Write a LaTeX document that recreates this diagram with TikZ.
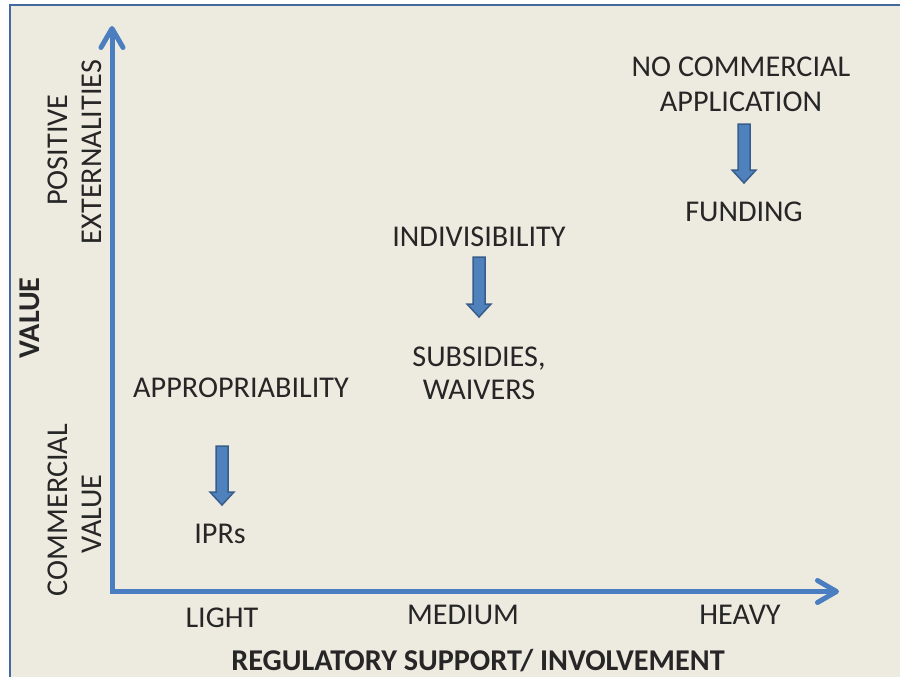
\documentclass[tikz,border=0pt]{standalone}
\usepackage{fontspec}
\setmainfont{Carlito}
\usetikzlibrary{arrows.meta}
\definecolor{pagebg}{HTML}{EDEAE0}
\definecolor{framecol}{HTML}{4468A0}
\definecolor{axiscol}{HTML}{4A7EC0}
\definecolor{blockfill}{HTML}{4F81BD}
\definecolor{blockline}{HTML}{385D8A}
\definecolor{ink}{HTML}{262626}
\tikzset{
  lbl/.style={text=ink, inner sep=0pt, font=\fontsize{30.2}{36}\selectfont},
  boldlbl/.style={text=ink, inner sep=0pt, font=\fontsize{30.2}{36}\selectfont\bfseries},
  axisline/.style={draw=axiscol, line width=5pt,
    -{Straight Barb[length=19pt,width=22pt,round]}},
  blockarrow/.style={fill=blockfill, draw=blockline, line width=1.5pt, line join=miter}
}
% down-pointing block arrow: #1 = centre x, #2 = top y, #3 = tip y
\newcommand{\downblock}[3]{%
  \filldraw[blockarrow] (#1-6,#2) -- (#1+6,#2) -- (#1+6,#3-13) -- (#1+12,#3-13)
    -- (#1,#3) -- (#1-12,#3-13) -- (#1-6,#3-13) -- cycle;}
\begin{document}
\begin{tikzpicture}[x=1pt,y=-1pt]
\useasboundingbox (0,0) rectangle (900,677);
\fill[white] (0,0) rectangle (900,677);
\fill[pagebg] (10,5) rectangle (900,677);
\draw[framecol, line width=1.5pt] (10,677) -- (10,5) -- (900,5);

% axes
\coordinate (origin) at (112,591.5);
\coordinate (ytip) at (112,26);
\coordinate (xtip) at (839,591.5);
\draw[axisline] (origin) -- (ytip);
\draw[axisline] (origin) -- (xtip);
\fill[axiscol] (109.5,589) rectangle (114.5,594);

% vertical axis labels
\node[lbl, rotate=90] (pos) at (58,150) {POSITIVE};
\node[lbl, rotate=90] (ext) at (92,152) {EXTERNALITIES};
\node[boldlbl, rotate=90] (val) at (30,318) {VALUE};
\node[lbl, rotate=90] (com) at (58,510) {COMMERCIAL};
\node[lbl, rotate=90] (cval) at (92,514) {VALUE};

% horizontal axis labels
\node[lbl, anchor=base] (light) at (222,627) {LIGHT};
\node[lbl, anchor=base] (medium) at (463,624) {MEDIUM};
\node[lbl, anchor=base] (heavy) at (740,624) {HEAVY};
\node[boldlbl, anchor=base] (reg) at (478,670) {REGULATORY SUPPORT/ INVOLVEMENT};

% light involvement
\node[lbl, anchor=base] (appr) at (241,397) {APPROPRIABILITY};
\downblock{222}{446}{505}
\node[lbl, anchor=base] (ipr) at (220,543) {IPRs};

% medium involvement
\node[lbl, anchor=base] (indiv) at (479,246) {INDIVISIBILITY};
\downblock{479}{257}{317}
\node[lbl, anchor=base] (subs) at (479,366) {SUBSIDIES,};
\node[lbl, anchor=base] (waiv) at (479,399) {WAIVERS};

% heavy involvement
\node[lbl, anchor=base] (nocom) at (741,77) {NO COMMERCIAL};
\node[lbl, anchor=base] (appl) at (741,111) {APPLICATION};
\downblock{744}{124}{183}
\node[lbl, anchor=base] (fund) at (744,221) {FUNDING};
\end{tikzpicture}
\end{document}
